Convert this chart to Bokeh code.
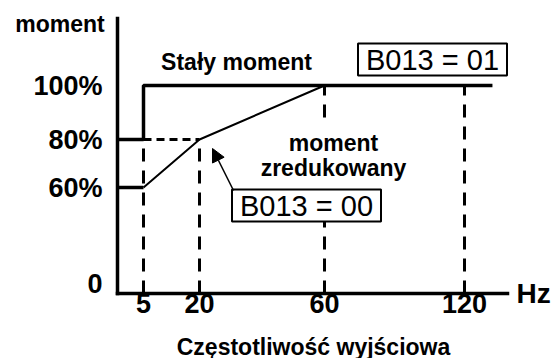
import numpy as np
from bokeh.plotting import figure
from bokeh.models import Range1d, FixedTicker, Label, Arrow, NormalHead, LinearAxis
from bokeh.embed import file_html
from bokeh.resources import INLINE

# ---------------- data ----------------
freq_ticks = [5, 20, 60, 120]
freq_labels = ["5", "20", "60", "120"]
torque_ticks = [0, 60, 80, 100]
torque_labels = ["0", "60%", "80%", "100%"]

# B013 = 01 : constant torque
const_freq = [0, 5, 5, 133]
const_torque = [80, 80, 100, 100]
# B013 = 00 : reduced torque
red_start_freq = [0, 5]
red_start_torque = [60, 60]
red_freq = [5, 20, 60]
red_torque = [60, 80, 100]
# dashed guides
guide_freq = [5, 20, 60, 120]
guide_torque = [80, 80, 100, 100]
boost_freq = [5, 20]
boost_torque = [80, 80]

# ---------------- schematic (non-linear) axis layout ----------------
x_anchor_hz = [0, 5, 20, 60, 120, 140]
x_anchor_pos = [0, 26, 82, 207, 347, 390]
y_anchor_pct = [0, 60, 80, 100, 125]
y_anchor_pos = [0, 106, 154, 208, 275]


def fx(v):
    return [float(a) for a in np.interp(v, x_anchor_hz, x_anchor_pos)]


def fy(v):
    return [float(a) for a in np.interp(v, y_anchor_pct, y_anchor_pos)]


FONT = "Liberation Sans"

p = figure(width=558, height=358, x_range=Range1d(-117, 441), y_range=Range1d(-65, 293),
           output_backend="svg", toolbar_location=None,
           x_axis_location=None, y_axis_location=None,
           min_border=0, min_border_left=0, min_border_right=0,
           min_border_top=0, min_border_bottom=0)
p.outline_line_color = None
p.grid.visible = False
p.background_fill_color = "white"
p.border_fill_color = "white"

# axes fixed at the origin of the schematic
xaxis = LinearAxis(fixed_location=0)
xt = fx(freq_ticks)
xaxis.ticker = FixedTicker(ticks=xt)
xaxis.major_label_overrides = {t: l for t, l in zip(xt, freq_labels)}
xaxis.bounds = (0, x_anchor_pos[-1])
xaxis.major_label_standoff = 0

yaxis = LinearAxis(fixed_location=0)
yt = fy(torque_ticks)
yt[0] = 10.0  # the "0" label sits slightly above the corner
yaxis.ticker = FixedTicker(ticks=yt)
yaxis.major_label_overrides = {t: l for t, l in zip(yt, torque_labels)}
yaxis.bounds = (0, y_anchor_pos[-1])
yaxis.major_label_standoff = 15

for ax in (xaxis, yaxis):
    ax.axis_line_width = 3.5
    ax.axis_line_color = "black"
    ax.axis_line_cap = "square"
    ax.major_tick_out = 0
    ax.major_tick_in = 0
    ax.minor_tick_out = 0
    ax.minor_tick_in = 0
    ax.major_label_text_font = FONT
    ax.major_label_text_font_style = "bold"
    ax.major_label_text_font_size = "27px"
    ax.major_label_text_color = "black"

p.add_layout(xaxis, "below")
p.add_layout(yaxis, "left")

# dashed guides
p.segment(x0=fx(guide_freq), y0=fy([0] * len(guide_freq)), x1=fx(guide_freq), y1=fy(guide_torque),
          line_color="black", line_width=3, line_dash="13 9")
p.line(fx(boost_freq), fy(boost_torque), line_color="black", line_width=3, line_dash="8 5")

# curves
p.line(fx(red_freq), fy(red_torque), line_color="black", line_width=2)
p.line(fx(red_start_freq), fy(red_start_torque), line_color="black", line_width=3.5)
p.line(fx(const_freq), fy(const_torque), line_color="black", line_width=3.5)

# annotations


def lab(text, x, y, size, bold=True, align="center", baseline="alphabetic", **kw):
    l = Label(x=x, y=y, text=text, text_font=FONT, text_font_size=size,
              text_font_style="bold" if bold else "normal", text_align=align,
              text_baseline=baseline, text_color="black", **kw)
    p.add_layout(l)
    return l


lab("moment", -57.5, 270, "23px")
lab("Stały moment", 119, 232, "23px")
lab("moment\nzredukowany", 216, 136, "23px", baseline="middle", text_line_height=0.95,
    background_fill_color="white", padding=dict(left=0, right=0, top=6, bottom=10))
lab("Hz", 399, 0, "28px", align="left", baseline="middle")
lab("Częstotliwość wyjściowa", 196, -53, "23px")
lab("B013 = 01", 315, 234, "29px", bold=False, baseline="middle",
    background_fill_color="white", border_line_color="black", border_line_width=2,
    padding=dict(left=8, right=8, top=0, bottom=0))
lab("B013 = 00", 189, 88, "29px", bold=False, baseline="middle",
    background_fill_color="white", border_line_color="black", border_line_width=2,
    padding=dict(left=8, right=8, top=0, bottom=0))

p.add_layout(Arrow(end=NormalHead(size=13, fill_color="black", line_color="black"),
                   x_start=116, y_start=103, x_end=95, y_end=145,
                   line_color="black", line_width=1.5))

open("out.html", "w").write(file_html(p, INLINE))
